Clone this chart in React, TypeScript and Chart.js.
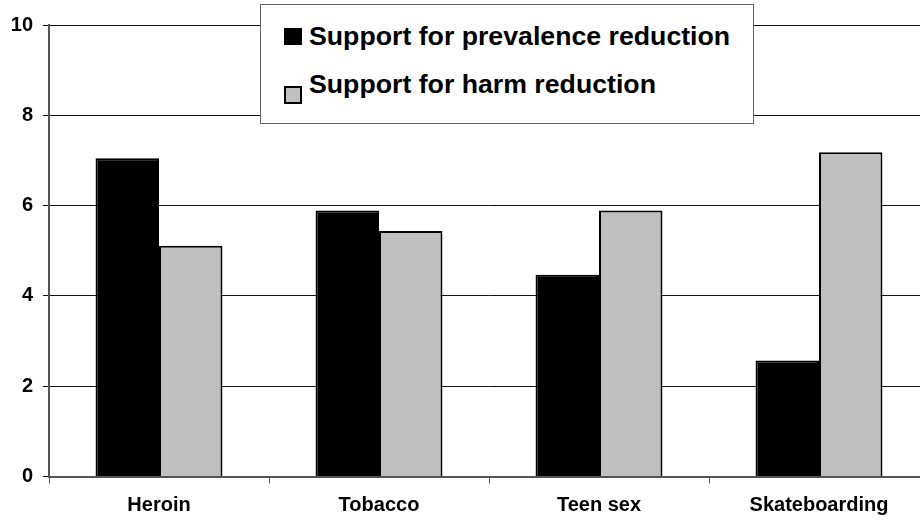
import React, { useEffect, useRef } from "react";
import { Chart, registerables } from "chart.js";

Chart.register(...registerables);

const categories = ["Heroin", "Tobacco", "Teen sex", "Skateboarding"];
const prevalenceReduction = [7.05, 5.89, 4.47, 2.57];
const harmReduction = [5.11, 5.44, 5.89, 7.18];
const seriesNames = ["Support for prevalence reduction", "Support for harm reduction"];
const yTicks = [0, 2, 4, 6, 8, 10];

const FONT = 'Arial, "Liberation Sans", sans-serif';

export default function App() {
  const ref = useRef<HTMLCanvasElement | null>(null);

  useEffect(() => {
    if (!ref.current) return;
    const chart = new Chart(ref.current, {
      type: "bar",
      data: {
        labels: categories,
        datasets: [
          {
            label: seriesNames[0],
            data: prevalenceReduction,
            backgroundColor: "#000000",
            borderColor: "#000000",
            borderWidth: 2,
            categoryPercentage: 0.577,
            barPercentage: 1,
          },
          {
            label: seriesNames[1],
            data: harmReduction,
            backgroundColor: "#C0C0C0",
            borderColor: "#000000",
            borderWidth: 2,
            categoryPercentage: 0.577,
            barPercentage: 1,
          },
        ],
      },
      options: {
        animation: false,
        responsive: true,
        maintainAspectRatio: false,
        layout: { padding: { top: 25, right: 11, left: 0, bottom: 0 } },
        plugins: { legend: { display: false }, tooltip: { enabled: false } },
        scales: {
          x: {
            offset: true,
            grid: {
              offset: true,
              drawOnChartArea: false,
              drawTicks: true,
              tickLength: 7,
              color: "#555",
            },
            border: { color: "#555", width: 2 },
            ticks: {
              color: "#000",
              padding: 10,
              maxRotation: 0,
              font: { family: FONT, size: 20, weight: "bold" },
            },
            afterFit: (s: any) => {
              s.height = 48.5;
            },
          },
          y: {
            min: 0,
            max: 10,
            afterBuildTicks: (s: any) => {
              s.ticks = yTicks.map((v) => ({ value: v }));
            },
            grid: { color: "#111", lineWidth: 1, tickLength: 6 },
            border: { color: "#555", width: 2 },
            ticks: {
              color: "#000",
              padding: 10,
              font: { family: FONT, size: 20, weight: "bold" },
            },
            afterFit: (s: any) => {
              s.width = 49;
            },
          },
        },
      },
    });
    return () => chart.destroy();
  }, []);

  const textStyle: React.CSSProperties = {
    position: "absolute",
    left: 309,
    fontFamily: FONT,
    fontWeight: "bold",
    fontSize: 26.7,
    lineHeight: "26.7px",
    color: "#000",
    whiteSpace: "nowrap",
  };

  return (
    <div
      style={{
        position: "fixed",
        left: 0,
        top: 0,
        width: 920,
        height: 525,
        overflow: "hidden",
        background: "#fff",
      }}
    >
      <div style={{ position: "absolute", left: 0, top: 0, width: 940, height: 525 }}>
        <canvas ref={ref} />
      </div>
      <div
        style={{
          position: "absolute",
          left: 260,
          top: 4,
          width: 494,
          height: 120,
          border: "1px solid #666",
          boxSizing: "border-box",
          background: "#fff",
        }}
      />
      <div
        style={{
          position: "absolute",
          left: 284,
          top: 28,
          width: 18,
          height: 17,
          background: "#000",
        }}
      />
      <div style={{ ...textStyle, top: 23 }}>{seriesNames[0]}</div>
      <div
        style={{
          position: "absolute",
          left: 284,
          top: 86,
          width: 18,
          height: 18,
          background: "#C0C0C0",
          border: "2px solid #000",
          boxSizing: "border-box",
        }}
      />
      <div style={{ ...textStyle, top: 70.5 }}>{seriesNames[1]}</div>
    </div>
  );
}
